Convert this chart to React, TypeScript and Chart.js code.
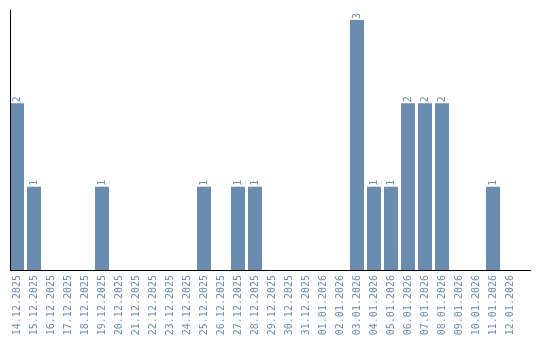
import React, { useEffect, useRef } from "react";
import { Chart, registerables } from "chart.js";

Chart.register(...registerables);

const categories = [
  "14.12.2025", "15.12.2025", "16.12.2025", "17.12.2025", "18.12.2025",
  "19.12.2025", "20.12.2025", "21.12.2025", "22.12.2025", "23.12.2025",
  "24.12.2025", "25.12.2025", "26.12.2025", "27.12.2025", "28.12.2025",
  "29.12.2025", "30.12.2025", "31.12.2025", "01.01.2026", "02.01.2026",
  "03.01.2026", "04.01.2026", "05.01.2026", "06.01.2026", "07.01.2026",
  "08.01.2026", "09.01.2026", "10.01.2026", "11.01.2026", "12.01.2026",
];
const values = [
  2, 1, 0, 0, 0,
  1, 0, 0, 0, 0,
  0, 1, 0, 1, 1,
  0, 0, 0, 0, 0,
  3, 1, 1, 2, 2,
  2, 0, 0, 1, 0,
];

const BAR = "#6a8caf";
const FONT = "DejaVu Sans Mono";

const valueLabels = {
  id: "valueLabels",
  afterDatasetsDraw(chart: any) {
    const ctx = chart.ctx;
    const meta = chart.getDatasetMeta(0);
    ctx.save();
    ctx.fillStyle = BAR;
    ctx.font = `10px '${FONT}'`;
    ctx.textAlign = "left";
    ctx.textBaseline = "middle";
    meta.data.forEach((el: any, i: number) => {
      const v = values[i];
      if (!v) return;
      ctx.save();
      ctx.translate(el.x, el.y - 1);
      ctx.rotate(-Math.PI / 2);
      ctx.fillText(String(v), 0, 0);
      ctx.restore();
    });
    ctx.restore();
  },
  afterDraw(chart: any) {
    const ctx = chart.ctx;
    const a = chart.chartArea;
    ctx.save();
    ctx.strokeStyle = "#000";
    ctx.lineWidth = 1;
    ctx.beginPath();
    ctx.moveTo(10.5, a.top);
    ctx.lineTo(10.5, 270.5);
    ctx.moveTo(10, 270.5);
    ctx.lineTo(531, 270.5);
    ctx.stroke();
    ctx.restore();
  },
};

export default function App() {
  const ref = useRef<HTMLCanvasElement | null>(null);
  useEffect(() => {
    document.body.style.margin = "0";
    if (!ref.current) return;
    const chart = new Chart(ref.current, {
      type: "bar",
      data: {
        labels: categories,
        datasets: [
          {
            data: values,
            backgroundColor: BAR,
            barPercentage: 14 / 17,
            categoryPercentage: 1,
          },
        ],
      },
      plugins: [valueLabels],
      options: {
        animation: false,
        responsive: false,
        layout: { padding: { left: 8.5, right: 21.5, top: 10, bottom: 0 } },
        plugins: { legend: { display: false }, tooltip: { enabled: false } },
        scales: {
          x: {
            grid: { display: false, drawTicks: false },
            border: { display: false },
            ticks: {
              color: BAR,
              font: { family: FONT, size: 10 },
              minRotation: 90,
              maxRotation: 90,
              autoSkip: false,
              padding: 5,
            },
            afterFit: (s: any) => {
              s.height = 70;
            },
          },
          y: {
            min: 0,
            max: 3.12,
            grid: { display: false, drawTicks: false },
            border: { display: false },
            ticks: { display: false },
            afterFit: (s: any) => {
              s.width = 0;
            },
          },
        },
      },
    });
    return () => chart.destroy();
  }, []);
  return <canvas ref={ref} width={540} height={340} style={{ display: "block" }} />;
}
